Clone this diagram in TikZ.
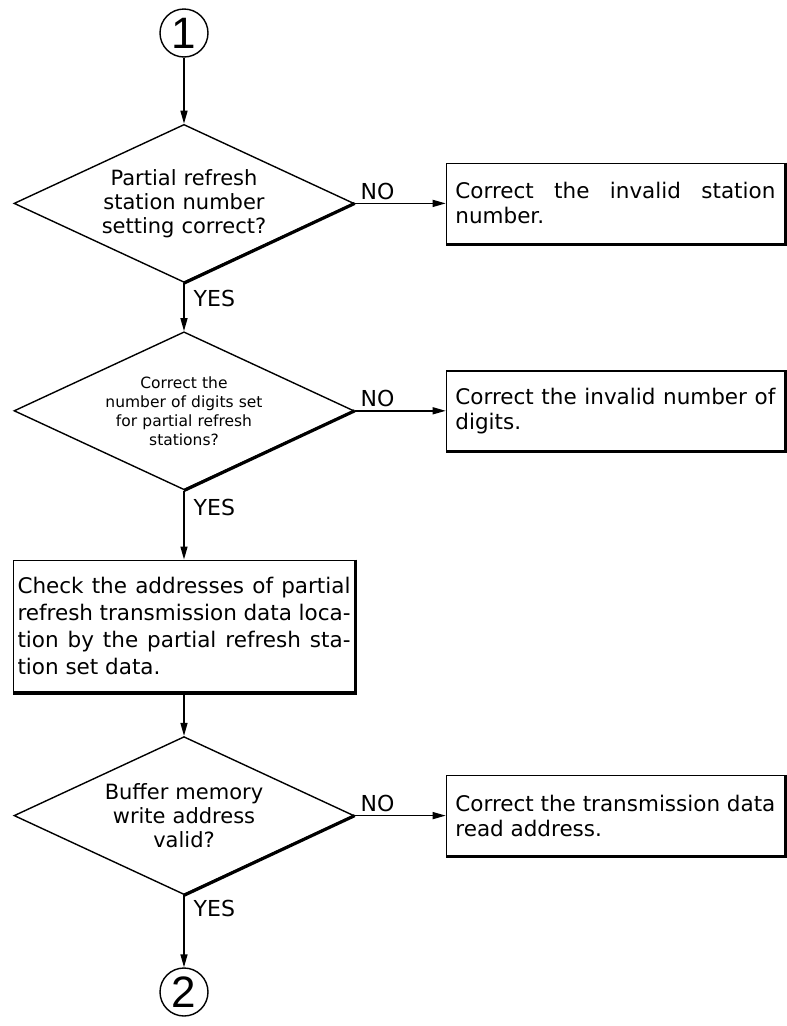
\documentclass[tikz,border=0pt]{standalone}
\usepackage{fontspec}
\setmainfont{DejaVu Sans}
\newfontfamily\digitfont{Liberation Sans}
\usetikzlibrary{shapes.geometric,arrows.meta,positioning}

\begin{document}
\begin{tikzpicture}[
    x=1pt, y=1pt,
    node distance=50pt,
    connector/.style={circle, draw, line width=1.4pt, minimum size=48pt, inner sep=0pt, font=\digitfont\fontsize{44}{44}\selectfont},
    decision/.style={diamond, draw, line width=1.4pt, aspect=2.15, minimum width=340pt, minimum height=158pt, inner sep=0pt, text width=170pt, align=center, font=\fontsize{21}{24}\selectfont},
    process/.style={rectangle, draw, line width=1.4pt, text width=333pt, inner xsep=4pt, minimum height=132pt, align=justify, font=\fontsize{21.5}{27}\selectfont},
    fixbox/.style={rectangle, draw, line width=1.4pt, text width=320pt, inner xsep=9pt, minimum height=80pt, align=justify, font=\fontsize{21.5}{25}\selectfont},
    lbl/.style={font=\fontsize{22}{22}\selectfont, inner sep=3pt},
    heavy/.style={line width=3.2pt},
    arrow/.style={-{Triangle[length=13pt,width=7pt]}, line width=1.4pt}
]
    \useasboundingbox (0,0) rectangle (787,-1026);

    % main column
    \node[connector] (start) at (184,-33) {1};
    \node[decision, below=66pt of start] (dec1) {Partial refresh\\station number\\setting correct?};
    \node[decision, below=48pt of dec1, font=\fontsize{15.5}{19}\selectfont] (dec2) {Correct the\\number of digits set\\for partial refresh\\stations?};
    \node[process, below=69pt of dec2] (check) {Check the addresses of partial\linebreak refresh transmission data loca-\linebreak tion by the partial refresh sta-\linebreak tion set data.};
    \node[decision, below=43pt of check] (dec3) {Buffer memory\\write address\\valid?};
    \node[connector, below=72pt of dec3] (stop) {2};

    % corrective actions
    \node[fixbox, right=91pt of dec1] (fix1) {Correct the invalid station\linebreak number.};
    \node[fixbox, right=91pt of dec2] (fix2) {Correct the invalid number of\linebreak digits.};
    \node[fixbox, right=91pt of dec3] (fix3) {Correct the transmission data\linebreak read address.};

    % heavy lower right edges
    \foreach \n in {dec1,dec2,dec3}
        \draw[heavy] (\n.east) -- (\n.south);
    \foreach \n in {fix1,fix2,fix3,check}
        \draw[heavy] (\n.north east) -- (\n.south east) -- (\n.south west);

    \draw[arrow] (start) -- (dec1);
    \draw[arrow] (dec1) -- node[lbl, pos=0, anchor=north west, xshift=6pt, yshift=-3pt] {YES} (dec2);
    \draw[arrow] (dec2) -- node[lbl, pos=0, anchor=north west, xshift=6pt, yshift=-5pt] {YES} (check);
    \draw[arrow] (check) -- (dec3);
    \draw[arrow] (dec3) -- node[lbl, pos=0, anchor=north west, xshift=6pt, yshift=-1pt] {YES} (stop);

    \draw[arrow] (dec1) -- node[lbl, above, near start] {NO} (fix1);
    \draw[arrow] (dec2) -- node[lbl, above, near start] {NO} (fix2);
    \draw[arrow] (dec3) -- node[lbl, above, near start] {NO} (fix3);
\end{tikzpicture}
\end{document}
